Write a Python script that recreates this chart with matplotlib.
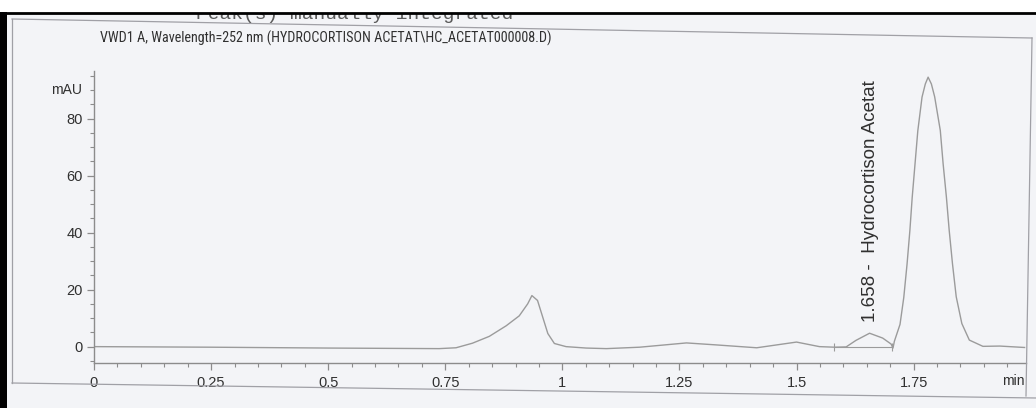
import matplotlib
matplotlib.use("Agg")
import matplotlib.pyplot as plt
from matplotlib import font_manager
from matplotlib.lines import Line2D
from matplotlib.patches import Rectangle
from matplotlib.ticker import MultipleLocator
import matplotlib.transforms as mtransforms

# chromatogram trace (min, mAU)
time = [0.0, 0.25, 0.5, 0.737, 0.773, 0.808, 0.844, 0.880, 0.908, 0.926,
        0.935, 0.947, 0.958, 0.969, 0.983, 1.008, 1.051, 1.094, 1.165, 1.265,
        1.329, 1.415, 1.5, 1.549, 1.581, 1.606, 1.627, 1.656, 1.684, 1.702,
        1.706, 1.709, 1.721, 1.729, 1.736, 1.742, 1.747, 1.753, 1.759, 1.768,
        1.775, 1.781, 1.788, 1.795, 1.807, 1.813, 1.820, 1.826, 1.833, 1.841,
        1.853, 1.869, 1.898, 1.934, 1.987]
signal = [0.0, -0.2, -0.5, -0.7, -0.4, 1.2, 3.6, 7.3, 10.8, 15.0,
          17.9, 16.2, 10.4, 4.6, 1.1, 0.0, -0.5, -0.7, -0.2, 1.3,
          0.6, -0.4, 1.6, 0.0, -0.2, -0.1, 2.2, 4.7, 3.0, 0.9,
          -0.5, 1.9, 7.8, 17.2, 28.9, 40.6, 52.3, 64.0, 75.7, 87.5,
          92.1, 94.5, 92.1, 87.6, 75.8, 64.2, 52.5, 40.8, 29.1, 17.5,
          8.1, 2.3, 0.1, 0.2, -0.3]

# integration baseline under the labelled peak
base_t = [1.581, 1.704]
base_v = [-0.3, -0.3]

peak_rt = 1.658
peak_h = 4.7
peak_name = "Hydrocortison Acetat"

x_ticks = [0, 0.25, 0.5, 0.75, 1, 1.25, 1.5, 1.75]
x_labels = ["0", "0.25", "0.5", "0.75", "1", "1.25", "1.5", "1.75"]
y_ticks = [0, 20, 40, 60, 80]

title = "VWD1 A, Wavelength=252 nm (HYDROCORTISON ACETAT\\HC_ACETAT000008.D)"
header = "Peak(s) manually integrated"

W, H = 1036, 408
names = {f.name for f in font_manager.fontManager.ttflist}
narrow = "Liberation Sans"
for cand in ["Liberation Sans Narrow", "Arial Narrow", "Roboto Condensed",
             "Open Sans Condensed", "DejaVu Sans Condensed"]:
    if cand in names:
        narrow = cand
        break
plt.rcParams["font.family"] = ["Liberation Sans", "DejaVu Sans"]

txt = "#303030"
grey = "#8c8c8c"
line_c = "#9b9b9b"

fig = plt.figure(figsize=(W / 100, H / 100), dpi=100, facecolor="#f3f4f7")


def px(x, y):
    return x / W, 1 - y / H


# plot area
ax = fig.add_axes([94 / W, (H - 362.6) / H, 932 / W, (362.6 - 70.6) / H])
ax.set_facecolor("none")
ax.plot(time, signal, color=line_c, lw=1.0, solid_joinstyle="round")
ax.plot(base_t, base_v, color=line_c, lw=0.8, marker="|", ms=6, mew=0.8)
ax.set_xlim(0, 1.99)
ax.set_ylim(-5.6, 96.8)

for s in ["top", "right"]:
    ax.spines[s].set_visible(False)
for s in ["left", "bottom"]:
    ax.spines[s].set_color(grey)
    ax.spines[s].set_linewidth(1.0)

ax.set_xticks(x_ticks)
ax.set_xticklabels(x_labels)
ax.set_yticks(y_ticks)
ax.xaxis.set_minor_locator(MultipleLocator(0.05))
ax.yaxis.set_minor_locator(MultipleLocator(5))
ax.tick_params(which="major", direction="out", length=5, width=0.9, color=grey,
               labelsize=10.5, labelcolor=txt)
ax.tick_params(which="minor", direction="out", length=3, width=0.8, color=grey)
ax.tick_params(axis="x", pad=5)
ax.tick_params(axis="y", pad=3)

trans = mtransforms.blended_transform_factory(ax.transAxes, ax.transData)
ax.text(-0.0125, 90, "mAU", transform=trans, ha="right", va="center",
        fontsize=10, color=txt)
ax.annotate("min", xy=(1, 0), xycoords="axes fraction", xytext=(-1, -8),
            textcoords="offset points", ha="right", va="top", fontsize=10, color=txt)

ax.annotate(f"{peak_rt:.3f} -  {peak_name}", xy=(peak_rt, peak_h), xytext=(0, 8),
            textcoords="offset points", rotation=90, ha="center", va="bottom",
            fontsize=13.5, color=txt)

# report header
t = fig.text(*px(100, 38), title, ha="left", va="center", fontsize=9,
             family=narrow, color=txt)
fig.canvas.draw()
w = t.get_window_extent().width
t.set_fontsize(9 * 450 / w)

fig.text(*px(196, 19), header, ha="left", va="baseline", fontsize=14,
         family="Liberation Mono", color="#5a5a5a", zorder=1)

# scanned page edges
fig.add_artist(Rectangle(px(0, 12.5), 1, 12.5 / H, transform=fig.transFigure,
                         facecolor="white", edgecolor="none", zorder=5))
fig.add_artist(Line2D([0, 1], [1 - 12.5 / H] * 2, transform=fig.transFigure,
                      color="black", lw=2, zorder=6))
fig.add_artist(Rectangle((0, 0), 7 / W, 1 - 12 / H, transform=fig.transFigure,
                         facecolor="black", edgecolor="none", zorder=6))
frame = [((12, 19), (12, 383)), ((12, 19), (1032, 38)), ((1032, 38), (1026, 396)),
         ((12, 383), (1036, 398))]
for (x0, y0), (x1, y1) in frame:
    a, b = px(x0, y0), px(x1, y1)
    fig.add_artist(Line2D([a[0], b[0]], [a[1], b[1]], transform=fig.transFigure,
                          color="#a0a0a6", lw=0.9, zorder=1))

fig.savefig("out.png", dpi=100, facecolor=fig.get_facecolor())
